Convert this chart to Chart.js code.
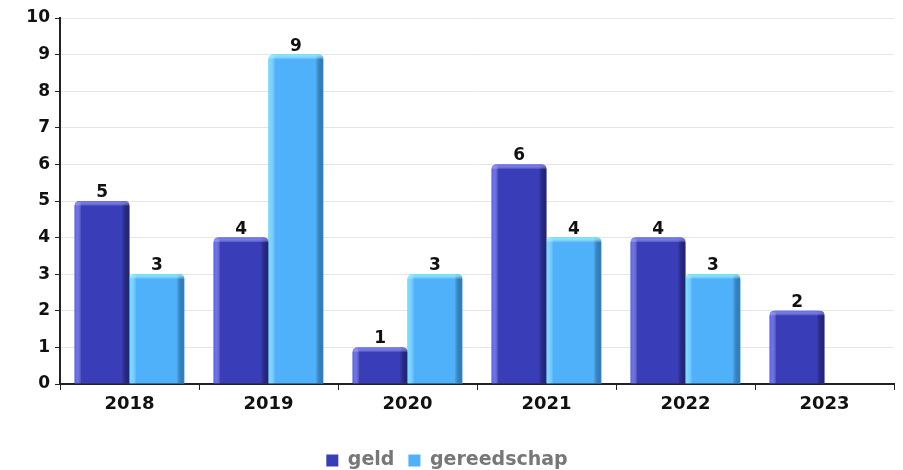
<!DOCTYPE html>
<html>
<head>
<meta charset="utf-8">
<script src="https://cdn.jsdelivr.net/npm/chart.js@4/dist/chart.umd.min.js"></script>
<style>
  html, body { margin: 0; padding: 0; background: #fff; }
  #wrap { width: 903px; height: 470px; }
</style>
</head>
<body>
<div id="wrap"><canvas id="bar-chart" width="903" height="470"></canvas></div>
<script>
var years = ["2018", "2019", "2020", "2021", "2022", "2023"];
var geld = [5, 4, 1, 6, 4, 2];
var gereedschap = [3, 9, 3, 4, 3, null];
var yTicks = [0, 1, 2, 3, 4, 5, 6, 7, 8, 9, 10];

var FONT = "'DejaVu Sans', Verdana, sans-serif";

// bevel colours per dataset: [left edge, right edge, top edge]
var shades = [
  ["rgba(80,90,255,0.95)", "rgba(30,32,110,0.85)", "rgba(90,100,255,1)"],
  ["rgba(100,230,255,0.9)", "rgba(40,120,190,0.8)", "rgba(100,245,255,1)"]
];

function roundTop(ctx, x, y, w, h, r) {
  ctx.beginPath();
  ctx.moveTo(x, y + h);
  ctx.lineTo(x, y + r);
  ctx.quadraticCurveTo(x, y, x + r, y);
  ctx.lineTo(x + w - r, y);
  ctx.quadraticCurveTo(x + w, y, x + w, y + r);
  ctx.lineTo(x + w, y + h);
  ctx.closePath();
}

var bevel = {
  id: "bevel",
  afterDatasetsDraw: function (chart) {
    var ctx = chart.ctx;
    chart.data.datasets.forEach(function (ds, i) {
      var meta = chart.getDatasetMeta(i);
      meta.data.forEach(function (bar, j) {
        if (ds.data[j] == null) return;
        var x = bar.x - bar.width / 2, w = bar.width;
        var y = bar.y, h = bar.base - bar.y;
        var s = shades[i];
        ctx.save();
        roundTop(ctx, x, y, w, h, 5);
        ctx.clip();
        var g = ctx.createLinearGradient(x, 0, x + 7, 0);
        g.addColorStop(0, s[0]);
        g.addColorStop(1, "rgba(255,255,255,0)");
        ctx.fillStyle = g;
        ctx.fillRect(x, y, 7, h);
        g = ctx.createLinearGradient(x + w - 8, 0, x + w, 0);
        g.addColorStop(0, "rgba(0,0,0,0)");
        g.addColorStop(1, s[1]);
        ctx.fillStyle = g;
        ctx.fillRect(x + w - 8, y, 8, h);
        g = ctx.createLinearGradient(0, y, 0, y + 5);
        g.addColorStop(0, s[2]);
        g.addColorStop(1, "rgba(255,255,255,0)");
        ctx.fillStyle = g;
        ctx.fillRect(x, y, w, 5);
        ctx.restore();
      });
    });
  }
};

var valueLabels = {
  id: "valueLabels",
  afterDatasetsDraw: function (chart) {
    var ctx = chart.ctx;
    ctx.save();
    ctx.font = "bold 17px " + FONT;
    ctx.fillStyle = "#111";
    ctx.textAlign = "center";
    ctx.textBaseline = "bottom";
    chart.data.datasets.forEach(function (ds, i) {
      chart.getDatasetMeta(i).data.forEach(function (bar, j) {
        if (ds.data[j] == null) return;
        ctx.fillText(String(ds.data[j]), bar.x, bar.y);
      });
    });
    ctx.restore();
  }
};

new Chart(document.getElementById("bar-chart"), {
  type: "bar",
  data: {
    labels: years,
    datasets: [
      {
        label: "geld",
        backgroundColor: "#3a3db8",
        borderWidth: 0,
        borderRadius: { topLeft: 5, topRight: 5 },
        borderSkipped: "bottom",
        data: geld
      },
      {
        label: "gereedschap",
        backgroundColor: "#4fb1fa",
        borderWidth: 0,
        borderRadius: { topLeft: 5, topRight: 5 },
        borderSkipped: "bottom",
        data: gereedschap
      }
    ]
  },
  options: {
    responsive: false,
    animation: false,
    layout: { padding: { top: 18, right: 9, left: 0, bottom: -10 } },
    datasets: { bar: { categoryPercentage: 0.79, barPercentage: 1 } },
    scales: {
      x: {
        grid: { display: true, drawOnChartArea: false, offset: true, tickColor: "#222", tickLength: 6 },
        border: { color: "#222", width: 2 },
        ticks: { color: "#111", font: { family: FONT, size: 18, weight: "bold" }, padding: 4 },
        afterFit: function (s) { s.height = 53; }
      },
      y: {
        min: 0,
        max: 10,
        afterBuildTicks: function (s) { s.ticks = yTicks.map(function (v) { return { value: v }; }); },
        grid: { color: "#e6e6e6", tickColor: "#222", tickLength: 5 },
        border: { color: "#222", width: 2 },
        ticks: { color: "#111", font: { family: FONT, size: 17, weight: "bold" }, padding: 5 },
        afterFit: function (s) { s.width = 60; }
      }
    },
    plugins: {
      legend: {
        position: "bottom",
        labels: {
          color: "#777",
          boxWidth: 12,
          boxHeight: 12,
          padding: 14,
          font: { family: FONT, size: 19, weight: "bold" }
        }
      },
      tooltip: { enabled: false }
    }
  },
  plugins: [bevel, valueLabels]
});
</script>
</body>
</html>
